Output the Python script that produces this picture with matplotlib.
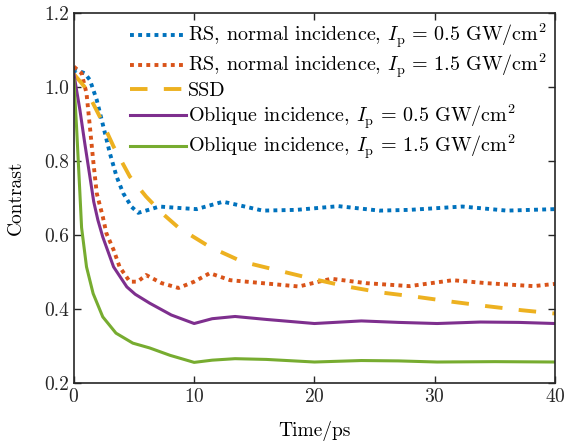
import matplotlib
matplotlib.use("Agg")
import matplotlib.pyplot as plt

plt.rcParams['font.family'] = 'cmr10'
plt.rcParams['mathtext.fontset'] = 'cm'
plt.rcParams['axes.formatter.use_mathtext'] = True

# RS, normal incidence, Ip = 0.5
t_rs05 = [0, 0.2, 0.9, 1.33, 1.9, 2.45, 3.0, 3.55, 4.1, 4.8, 5.35, 6.2, 7.1, 8.8, 10.2, 12.4, 13.8, 15.7, 18.5, 22.0, 25.4, 27.9, 32.3, 36.0, 40]
c_rs05 = [1.04, 1.046, 1.037, 1.019, 0.965, 0.893, 0.82, 0.758, 0.713, 0.676, 0.66, 0.668, 0.677, 0.673, 0.67, 0.69, 0.68, 0.666, 0.668, 0.678, 0.666, 0.668, 0.677, 0.666, 0.67]

# RS, normal incidence, Ip = 1.5
t_rs15 = [0, 0.64, 1.05, 1.33, 1.6, 1.9, 2.4, 2.7, 3.3, 3.8, 4.65, 5.3, 6.0, 7.3, 8.7, 10.0, 11.3, 13.0, 15.7, 18.7, 21.4, 24.3, 27.9, 31.5, 34.3, 38.2, 40]
c_rs15 = [1.055, 1.037, 0.983, 0.893, 0.803, 0.713, 0.65, 0.605, 0.56, 0.514, 0.474, 0.474, 0.492, 0.47, 0.457, 0.474, 0.497, 0.478, 0.47, 0.461, 0.482, 0.47, 0.462, 0.478, 0.47, 0.462, 0.468]

# SSD
t_ssd = [0, 0.9, 2.15, 3.3, 4.65, 6.0, 7.3, 8.7, 11.3, 14.0, 16.9, 19.8, 22.7, 25.5, 28.5, 31.4, 34.3, 37.2, 40]
c_ssd = [1.035, 1.0, 0.92, 0.839, 0.758, 0.704, 0.66, 0.62, 0.568, 0.528, 0.505, 0.482, 0.461, 0.445, 0.433, 0.42, 0.408, 0.397, 0.388]

# Oblique incidence, Ip = 0.5
t_ob05 = [0, 0.5, 0.9, 1.33, 1.65, 2.0, 2.4, 3.3, 4.4, 5.1, 6.3, 8.1, 10.0, 11.5, 13.4, 16.0, 20.0, 23.9, 27.0, 30.2, 33.8, 37.0, 40]
c_ob05 = [1.035, 0.938, 0.849, 0.758, 0.69, 0.64, 0.595, 0.514, 0.46, 0.44, 0.416, 0.384, 0.361, 0.374, 0.38, 0.372, 0.361, 0.368, 0.364, 0.361, 0.365, 0.364, 0.361]

# Oblique incidence, Ip = 1.5
t_ob15 = [0, 0.22, 0.5, 0.64, 1.05, 1.6, 2.4, 3.5, 4.9, 6.3, 8.0, 10.0, 11.5, 13.4, 16.0, 20.0, 23.9, 27.0, 30.2, 35.0, 40]
c_ob15 = [1.019, 0.893, 0.713, 0.62, 0.514, 0.442, 0.379, 0.335, 0.308, 0.295, 0.275, 0.256, 0.262, 0.266, 0.264, 0.257, 0.261, 0.26, 0.257, 0.258, 0.257]

labels = [
    r'RS, normal incidence, $I_\mathrm{p}\,=\,0.5\ \mathrm{GW/cm^2}$',
    r'RS, normal incidence, $I_\mathrm{p}\,=\,1.5\ \mathrm{GW/cm^2}$',
    'SSD',
    r'Oblique incidence, $I_\mathrm{p}\,=\,0.5\ \mathrm{GW/cm^2}$',
    r'Oblique incidence, $I_\mathrm{p}\,=\,1.5\ \mathrm{GW/cm^2}$',
]

fig = plt.figure(figsize=(5.64, 4.46), dpi=100)
ax = fig.add_axes([0.131, 0.141, 0.853, 0.830])

ax.plot(t_rs05, c_rs05, color='#0072BD', lw=2.8, ls=(0, (1, 1.1)), dash_capstyle='butt', label=labels[0])
ax.plot(t_rs15, c_rs15, color='#D95319', lw=2.8, ls=(0, (1, 1.1)), dash_capstyle='butt', label=labels[1])
ax.plot(t_ssd, c_ssd, color='#EDB120', lw=2.8, ls=(0, (4.5, 4.2)), dash_capstyle='butt', label=labels[2])
ax.plot(t_ob05, c_ob05, color='#7E2F8E', lw=2.2, label=labels[3])
ax.plot(t_ob15, c_ob15, color='#77AC30', lw=2.2, label=labels[4])

ax.set_xlim(0, 40)
ax.set_ylim(0.2, 1.2)
ax.set_xticks([0, 10, 20, 30, 40])
ax.set_yticks([0.2, 0.4, 0.6, 0.8, 1.0, 1.2])
ax.set_yticklabels(['0.2', '0.4', '0.6', '0.8', '1.0', '1.2'])
ax.tick_params(direction='in', top=True, right=True, length=5, width=1, labelsize=14, colors='#262626')
for s in ax.spines.values():
    s.set_linewidth(1.2)
    s.set_color('#262626')
ax.set_xlabel('Time/ps', fontsize=14, labelpad=11)
ax.set_ylabel('Contrast', fontsize=14, labelpad=14)

ax.legend(loc='upper right', frameon=False, fontsize=14.5, handlelength=2.8,
          handletextpad=0.1, labelspacing=0.1, borderaxespad=0.0,
          bbox_to_anchor=(1.0, 0.998))

fig.savefig('out.png', dpi=100)
